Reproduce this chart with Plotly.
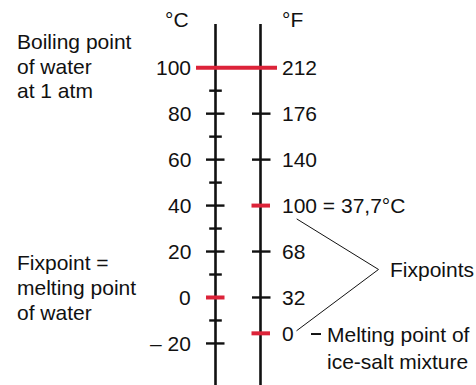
import plotly.graph_objects as go

# ---------------- data ----------------
celsius_major = [100, 80, 60, 40, 20, 0, -20]
celsius_major_labels = ["100", "80", "60", "40", "20", "0", "– 20"]
celsius_minor = [90, 70, 50, 30, 10, -10]
fahrenheit_labels = ["212", "176", "140", "100 = 37,7°C", "68", "32", "0"]
# position of each Fahrenheit mark, as drawn against the Celsius scale
fahrenheit_at_celsius = [100, 80, 60, 40, 20, 0, -15.6]
fixpoint_celsius = [0]
fixpoint_fahrenheit_at_celsius = [40, -15.6]
boiling_point_c = 100
unit_labels = ["°C", "°F"]

# ---------------- layout helpers ----------------
W, H = 476, 385
Y_TOP_C, Y_BOT_C = 129.46, -38.08      # y range in °C
X_C, X_F = 215.5, 260.5                # axis positions (x in px units)
RED = "#dc2339"
BLACK = "#111111"
FONT = "Liberation Sans, Arial, Helvetica, sans-serif"
FS = 21


def py(px):  # pixel row -> paper y
    return 1 - px / H


def px(x):
    return x / W


def seg_trace(xs0, xs1, ys, color, width):
    xx, yy = [], []
    for y in ys:
        xx += [xs0, xs1, None]
        yy += [y, y, None]
    return go.Scatter(x=xx, y=yy, mode="lines", line=dict(color=color, width=width),
                      hoverinfo="skip", showlegend=False)


fig = go.Figure()

# vertical scale lines
axis_top_c = 119.0
for xa in (X_C, X_F):
    fig.add_trace(go.Scatter(x=[xa, xa], y=[axis_top_c, Y_BOT_C - 2], mode="lines",
                             line=dict(color=BLACK, width=2.6), hoverinfo="skip",
                             showlegend=False))

# Celsius ticks
black_c_major = [v for v in celsius_major if v not in fixpoint_celsius and v != boiling_point_c]
fig.add_trace(seg_trace(X_C - 9.5, X_C + 9, black_c_major, BLACK, 2.4))
fig.add_trace(seg_trace(X_C - 6.3, X_C + 6.3, celsius_minor, BLACK, 2.4))

# Fahrenheit ticks
black_f = [v for v in fahrenheit_at_celsius
           if v not in fixpoint_fahrenheit_at_celsius and v != boiling_point_c]
fig.add_trace(seg_trace(X_F - 8.5, X_F + 10, black_f, BLACK, 2.4))

# red fixpoints
fig.add_trace(seg_trace(X_C - 9.5, X_C + 9, fixpoint_celsius, RED, 4))
fig.add_trace(seg_trace(X_F - 9, X_F + 9.5, fixpoint_fahrenheit_at_celsius, RED, 4))
fig.add_trace(seg_trace(196, 277, [boiling_point_c], RED, 4))

# leader lines to "Fixpoints"
fig.add_trace(go.Scatter(x=[296.7, 378.5, 296.5], y=[34.2, 12.2, -14.5], mode="lines",
                         line=dict(color=BLACK, width=1), hoverinfo="skip", showlegend=False))
# short dash before "Melting point of"
fig.add_trace(go.Scatter(x=[311, 321], y=[-15.9, -15.9], mode="lines",
                         line=dict(color=BLACK, width=2), hoverinfo="skip", showlegend=False))

annotations = []
font = dict(family=FONT, size=FS, color=BLACK)

for v, lab in zip(celsius_major, celsius_major_labels):
    annotations.append(dict(x=191.5, y=v, xref="x", yref="y", text=lab, showarrow=False,
                            xanchor="right", yanchor="middle", font=font, borderpad=0))
for v, lab in zip(fahrenheit_at_celsius, fahrenheit_labels):
    annotations.append(dict(x=280.5, y=v, xref="x", yref="y", text=lab, showarrow=False,
                            xanchor="left", yanchor="middle", font=font, borderpad=0))

# unit headers
for xc, lab in zip((177, 292), unit_labels):
    annotations.append(dict(x=px(xc), y=py(19.5), xref="paper", yref="paper", text=lab,
                            showarrow=False, xanchor="center", yanchor="middle", font=font,
                            borderpad=0))

# free text blocks (left-aligned lines)
text_lines = [
    (16, 41.2, "Boiling point"),
    (16, 66.2, "of water"),
    (16, 90.5, "at 1 atm"),
    (16, 262.2, "Fixpoint ="),
    (16, 287.2, "melting point"),
    (16, 312.5, "of water"),
    (389.3, 269.3, "Fixpoints"),
    (326.3, 334.2, "Melting point of"),
    (326.3, 361.2, "ice-salt mixture"),
]
for x0, y0, t in text_lines:
    annotations.append(dict(x=px(x0), y=py(y0), xref="paper", yref="paper", text=t,
                            showarrow=False, xanchor="left", yanchor="middle", font=font,
                            borderpad=0))

fig.update_layout(
    width=W, height=H, autosize=False,
    margin=dict(l=0, r=0, t=0, b=0, pad=0),
    paper_bgcolor="white", plot_bgcolor="white",
    xaxis=dict(range=[0, W], visible=False, fixedrange=True),
    yaxis=dict(range=[Y_BOT_C, Y_TOP_C], visible=False, fixedrange=True),
    annotations=annotations,
    showlegend=False,
)

fig.write_html(
    "out.html",
    config={"displayModeBar": False},
    post_script="document.body.style.margin='0';document.body.style.overflow='hidden';",
)
